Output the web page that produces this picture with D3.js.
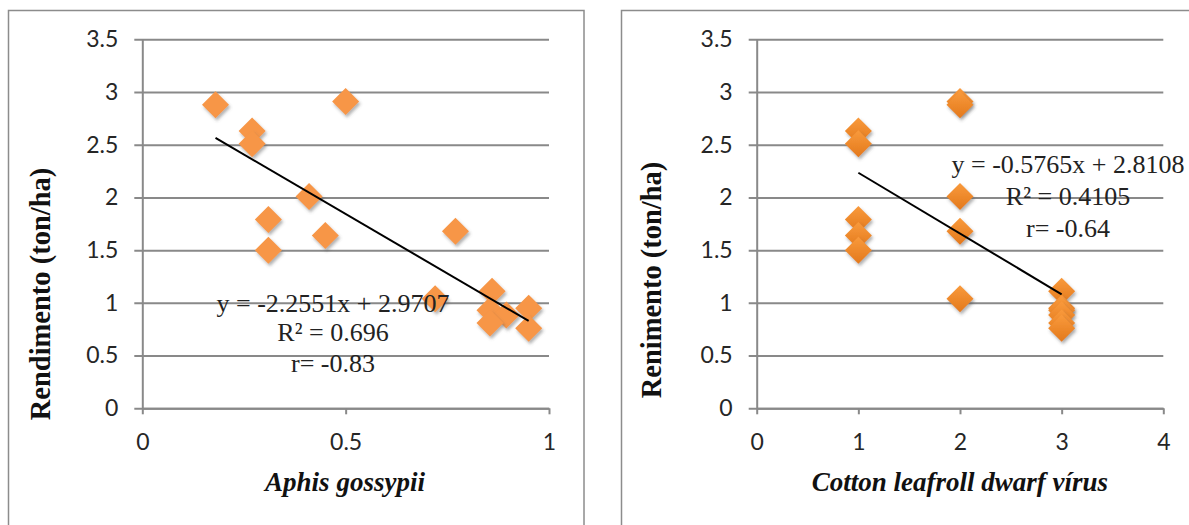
<!DOCTYPE html>
<html>
<head>
<meta charset="utf-8">
<script src="https://cdn.jsdelivr.net/npm/d3@7"></script>
<style>
  body { margin: 0; background: #fff; }
  svg { display: block; }
</style>
</head>
<body>
<div id="chart"></div>
<script>
// yield vs Aphis gossypii (left) and vs virus score (right)
var aphisX  = [0.18, 0.50, 0.27, 0.27, 0.41, 0.31, 0.45, 0.31, 0.77, 0.72, 0.86, 0.855, 0.895, 0.855, 0.95, 0.95];
var yieldA  = [2.88, 2.91, 2.63, 2.51, 2.01, 1.79, 1.64, 1.50, 1.68, 1.04, 1.11, 0.93, 0.885, 0.81, 0.95, 0.76];

var virusX  = [1, 1, 1, 1, 1, 2, 2, 2, 2, 2, 3, 3, 3, 3, 3, 3];
var yieldV  = [2.63, 2.51, 1.79, 1.64, 1.50, 2.91, 2.88, 2.01, 1.68, 1.04, 1.11, 0.95, 0.93, 0.885, 0.81, 0.76];

var yTicks      = [0, 0.5, 1, 1.5, 2, 2.5, 3, 3.5];
var xTicksAphis = [0, 0.5, 1];
var xTicksVirus = [0, 1, 2, 3, 4];

var trendA = [-2.2551, 2.9707];   // slope, intercept
var trendV = [-0.5765, 2.8108];

var labelA = ["y = -2.2551x + 2.9707", "R\u00b2 = 0.696", "r= -0.83"];
var labelV = ["y = -0.5765x + 2.8108", "R\u00b2 = 0.4105", "r= -0.64"];

var W = 1189, H = 525;
var svg = d3.select("#chart").append("svg")
	.attr("width", W)
	.attr("height", H);

var defs = svg.append("defs");
defs.append("filter")
	.attr("id", "shadow")
	.attr("x", "-50%").attr("y", "-50%").attr("width", "200%").attr("height", "200%")
	.append("feDropShadow")
	.attr("dx", 1.5).attr("dy", 2.5)
	.attr("stdDeviation", 1.6)
	.attr("flood-color", "#555")
	.attr("flood-opacity", 0.45);

var grad = defs.append("linearGradient")
	.attr("id", "orangeGrad")
	.attr("x1", 0).attr("y1", 0).attr("x2", 0).attr("y2", 1);
grad.append("stop").attr("offset", "0%").attr("stop-color", "#f99a3c");
grad.append("stop").attr("offset", "100%").attr("stop-color", "#e3791c");

var gridColor = "#898989";
var tickFont = "Lato, 'Open Sans', sans-serif";
var serif = "'Liberation Serif', 'Times New Roman', serif";

function drawPanel(p) {
	var g = svg.append("g");

	// frame of the chart area (runs off the bottom of the picture)
	g.append("rect")
		.attr("x", p.frameX).attr("y", 10.5)
		.attr("width", p.frameW).attr("height", H)
		.attr("fill", "#fff")
		.attr("stroke", "#8c8c8c")
		.attr("stroke-width", 1.5);

	var x = d3.scaleLinear().domain(p.xDomain).range([p.left, p.right]);
	var y = d3.scaleLinear().domain([0, 3.5]).range([408.3, 39.3]);

	// gridlines (they also form the little y ticks left of the axis)
	var grid = g.append("g")
		.attr("transform", "translate(" + (p.left - 8) + ",0)")
		.call(d3.axisRight(y).tickValues(yTicks).tickSize(p.right - p.left + 8).tickFormat(""));
	grid.select(".domain").remove();
	grid.selectAll("line").attr("stroke", gridColor).attr("stroke-width", 2);

	// y labels
	var yAx = g.append("g")
		.attr("transform", "translate(" + p.left + ",0)")
		.call(d3.axisLeft(y).tickValues(yTicks).tickSize(0).tickPadding(24).tickFormat(d3.format("")));
	yAx.select(".domain").attr("stroke", gridColor).attr("stroke-width", 2);
	yAx.selectAll("text")
		.attr("font-family", tickFont).attr("font-size", 23)
		.attr("fill", "#262626");

	// x axis
	var xAx = g.append("g")
		.attr("transform", "translate(0,408.3)")
		.call(d3.axisBottom(x).tickValues(p.xTicks).tickSizeInner(6).tickSizeOuter(0).tickFormat(d3.format("")));
	xAx.select(".domain").attr("stroke", gridColor).attr("stroke-width", 2);
	xAx.selectAll("line").attr("stroke", gridColor).attr("stroke-width", 2);
	xAx.selectAll("text")
		.attr("y", 42).attr("dy", null)
		.attr("font-family", tickFont).attr("font-size", 23)
		.attr("fill", "#262626");

	// points
	var pts = p.xs.map(function (d, i) { return { x: d, y: p.ys[i] }; });
	var r = 13.5;
	g.append("g").selectAll("path")
		.data(pts)
		.enter().append("path")
		.attr("d", function (d) {
			var cx = x(d.x), cy = y(d.y);
			return "M" + cx + "," + (cy - r) + "L" + (cx + r) + "," + cy +
				"L" + cx + "," + (cy + r) + "L" + (cx - r) + "," + cy + "Z";
		})
		.attr("fill", p.fill)
		.attr("filter", "url(#shadow)");

	// trendline over the data range
	var ext = d3.extent(p.xs);
	var line = d3.line()
		.x(function (d) { return x(d); })
		.y(function (d) { return y(p.trend[0] * d + p.trend[1]); });
	g.append("path")
		.attr("d", line(ext))
		.attr("stroke", "#000")
		.attr("stroke-width", 2)
		.attr("fill", "none");

	// equation label
	var lab = g.append("text")
		.attr("font-family", serif)
		.attr("font-size", 26)
		.attr("fill", "#222")
		.attr("text-anchor", "middle");
	p.label.forEach(function (s, i) {
		lab.append("tspan")
			.attr("x", p.labX)
			.attr("y", p.labY[i])
			.text(s);
	});

	// axis titles
	g.append("text")
		.attr("transform", "translate(" + p.yTitleX + "," + p.yTitleY + ") rotate(-90)")
		.attr("text-anchor", "middle")
		.attr("font-family", serif)
		.attr("font-weight", "bold")
		.attr("font-size", 28.5)
		.attr("fill", "#111")
		.text(p.yTitle);

	g.append("text")
		.attr("x", p.xTitleX).attr("y", 491)
		.attr("text-anchor", "middle")
		.attr("font-family", serif)
		.attr("font-weight", "bold")
		.attr("font-style", "italic")
		.attr("font-size", 27)
		.attr("fill", "#111")
		.text(p.xTitle);
}

drawPanel({
	frameX: 8.5, frameW: 575.5,
	left: 142.3, right: 549, xDomain: [0, 1], xTicks: xTicksAphis,
	xs: aphisX, ys: yieldA, fill: "#f79646",
	trend: trendA, label: labelA, labX: 333, labY: [312, 341, 372],
	yTitle: "Rendimento (ton/ha)", yTitleX: 50, yTitleY: 294,
	xTitle: "Aphis gossypii", xTitleX: 345
});

drawPanel({
	frameX: 621.5, frameW: 600,
	left: 756.7, right: 1163.3, xDomain: [0, 4], xTicks: xTicksVirus,
	xs: virusX, ys: yieldV, fill: "url(#orangeGrad)",
	trend: trendV, label: labelV, labX: 1068, labY: [173, 205, 237],
	yTitle: "Renimento (ton/ha)", yTitleX: 661, yTitleY: 280,
	xTitle: "Cotton leafroll dwarf v\u00edrus", xTitleX: 960
});
</script>
</body>
</html>
